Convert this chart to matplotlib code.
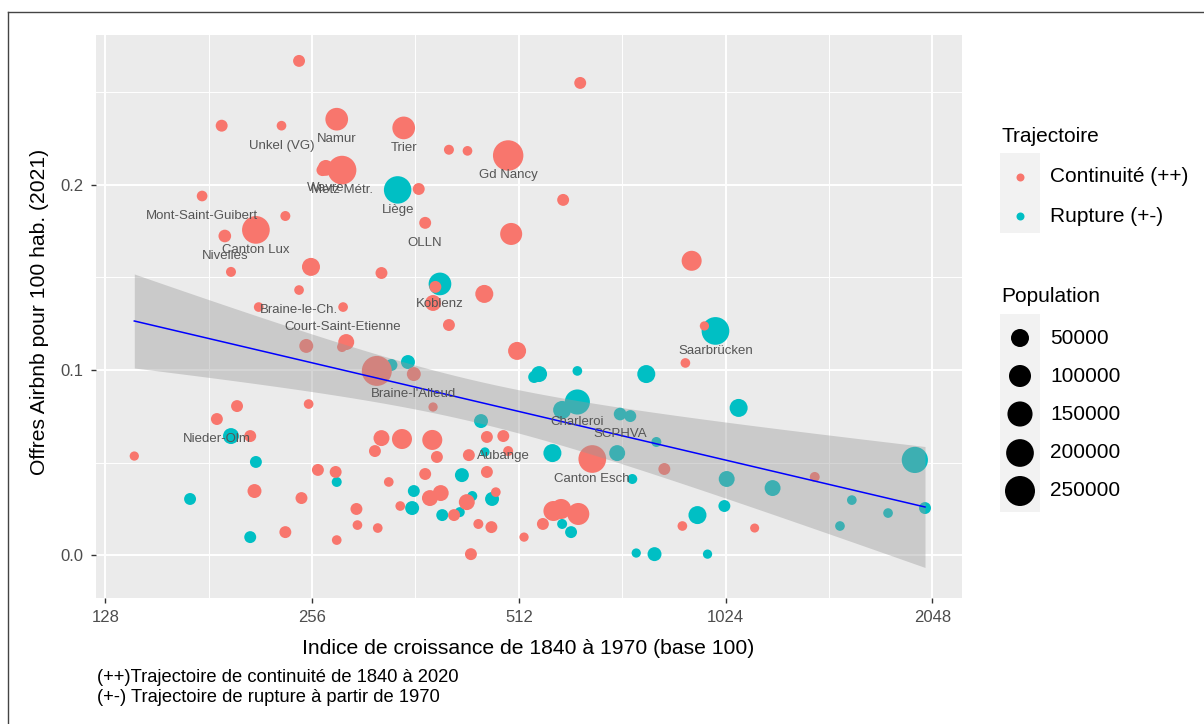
import numpy as np
import matplotlib
matplotlib.use('Agg')
import matplotlib.pyplot as plt
from matplotlib.patches import Rectangle
from matplotlib.lines import Line2D

plt.rcParams['font.family'] = ['Liberation Sans', 'DejaVu Sans']

# Trajectoire de continuité (++)
cont_indice = [245, 189, 231, 278, 265, 268, 283, 177, 234, 212,
               191, 195, 255, 323, 245, 214, 284, 251, 287, 283,
               318, 199, 253, 186, 208, 141, 211, 247, 234, 261,
               277, 316, 323, 346, 383, 297, 298, 319, 278, 331,
               344, 348, 405, 431, 494, 366, 594, 374, 499, 387,
               456, 384, 405, 509, 360, 384, 460, 486, 389, 433,
               494, 655, 834, 374, 460, 380, 394, 430, 474, 412,
               447, 467, 521, 555, 575, 590, 625, 436, 629, 914,
               954, 895, 886, 1129, 1381]
cont_airbnb = [0.267, 0.232, 0.232, 0.2355, 0.208, 0.2092, 0.208, 0.194, 0.1832, 0.1757,
               0.1724, 0.153, 0.1557, 0.1524, 0.1432, 0.134, 0.134, 0.113, 0.1151, 0.1124,
               0.0995, 0.0805, 0.0816, 0.0735, 0.0643, 0.0535, 0.0346, 0.0308, 0.0124, 0.046,
               0.0449, 0.0562, 0.0632, 0.0627, 0.0622, 0.0249, 0.0162, 0.0146, 0.0081, 0.0395,
               0.0265, 0.2308, 0.219, 0.2184, 0.2159, 0.1978, 0.1919, 0.1795, 0.1735, 0.1449,
               0.1411, 0.1362, 0.1243, 0.1103, 0.0978, 0.080, 0.0638, 0.0643, 0.053, 0.054,
               0.0562, 0.0519, 0.0465, 0.0438, 0.0449, 0.0308, 0.0335, 0.0286, 0.034, 0.0216,
               0.0168, 0.0151, 0.0097, 0.0168, 0.0238, 0.0249, 0.0222, 0.0005, 0.2551, 0.159,
               0.1238, 0.1038, 0.0157, 0.0146, 0.0422]
cont_pop = [7000, 7000, 1000, 110000, 7000, 30000, 220000, 3000, 1500, 200000,
            10000, 1500, 50000, 7000, 1000, 1000, 1000, 17000, 31000, 1500,
            250000, 7000, 1000, 7000, 7000, 500, 17000, 7000, 7000, 7000,
            7000, 7000, 31000, 73000, 73000, 7000, 1000, 1000, 1000, 1000,
            1000, 110000, 1500, 1000, 260000, 7000, 7000, 7000, 100000, 7000,
            50000, 31000, 7000, 50000, 17000, 500, 7000, 7000, 7000, 7000,
            1500, 200000, 7000, 7000, 7000, 31000, 31000, 31000, 1000, 7000,
            1500, 7000, 500, 7000, 73000, 73000, 100000, 7000, 7000, 73000,
            500, 1000, 1000, 300, 1500]
cont_nom = ['', '', 'Unkel (VG)', 'Namur', '', 'Wavre', 'Metz Métr.', 'Mont-Saint-Guibert', '', 'Canton Lux',
            'Nivelles', '', '', '', 'Braine-le-Ch.', '', 'Court-Saint-Etienne', '', '', '',
            '', '', '', 'Nieder-Olm', '', '', '', '', '', '',
            '', '', '', '', '', '', '', '', '', '',
            '', 'Trier', '', '', 'Gd Nancy', '', '', 'OLLN', '', '',
            '', '', '', '', "Braine-l'Alleud", '', '', 'Aubange', '', '',
            '', 'Canton Esch', '', '', '', '', '', '', '', '',
            '', '', '', '', '', '', '', '', '', '',
            '', '', '', '', '']

# Trajectoire de rupture (+-)
rupt_indice = [341, 393, 353, 334, 548, 539, 623, 785, 623, 592,
               719, 744, 451, 457, 573, 712, 812, 749, 423, 360,
               438, 468, 358, 396, 420, 592, 610, 759, 807, 195,
               212, 170, 208, 278, 990, 1070, 1028, 932, 1020, 964,
               1199, 1564, 1503, 1766, 1932, 1999]
rupt_airbnb = [0.1973, 0.1465, 0.1043, 0.1027, 0.0978, 0.0962, 0.0995, 0.0978, 0.0827, 0.0784,
               0.0762, 0.0751, 0.0724, 0.0557, 0.0551, 0.0551, 0.0611, 0.0411, 0.0432, 0.0346,
               0.0319, 0.0303, 0.0254, 0.0216, 0.0232, 0.0168, 0.0124, 0.0011, 0.0005, 0.0643,
               0.0503, 0.0303, 0.0097, 0.0395, 0.1211, 0.0795, 0.0411, 0.0216, 0.0265, 0.0005,
               0.0362, 0.0297, 0.0157, 0.0227, 0.0514, 0.0254]
rupt_pop = [195000, 110000, 17000, 7000, 31000, 7000, 1000, 50000, 150000, 50000,
            10000, 7000, 17000, 500, 50000, 31000, 1500, 1500, 17000, 7000,
            1500, 17000, 17000, 7000, 1500, 1500, 7000, 500, 17000, 31000,
            7000, 7000, 7000, 1500, 200000, 50000, 31000, 50000, 7000, 500,
            31000, 1000, 1000, 1000, 170000, 7000]
rupt_nom = ['Liège', 'Koblenz', '', '', '', '', '', '', 'Charleroi', '',
            'SCPHVA', '', '', '', '', '', '', '', '', '',
            '', '', '', '', '', '', '', '', '', '',
            '', '', '', '', 'Saarbrücken', '', '', '', '', '',
            '', '', '', '', '', '']

pop_legende = [50000, 100000, 150000, 200000, 250000]
x_ticks = [128, 256, 512, 1024, 2048]
y_ticks = [0.0, 0.1, 0.2]

rouge = '#F8766D'
bleu_vert = '#00BFC4'


def taille(pop):
    # diametre en pixels ~ racine de la population, converti en points^2
    d = 8.3 + 0.0434 * np.sqrt(np.asarray(pop, dtype=float))
    return (d * 0.72) ** 2


W, H = 1204, 724
fig = plt.figure(figsize=(W / 100, H / 100), dpi=100)
ax = fig.add_axes([95.5 / W, 1 - 598 / H, (962 - 95.5) / W, (598 - 35) / H])
ax.set_facecolor('#EBEBEB')
for s in ax.spines.values():
    s.set_visible(False)

ax.scatter(rupt_indice, rupt_airbnb, s=taille(rupt_pop), color=bleu_vert, linewidths=0, zorder=2)
ax.scatter(cont_indice, cont_airbnb, s=taille(cont_pop), color=rouge, linewidths=0, zorder=2)

# droite de regression lineaire (x en log2) + intervalle de confiance 95%
x_all = np.log2(np.array(cont_indice + rupt_indice, dtype=float))
y_all = np.array(cont_airbnb + rupt_airbnb)
n = len(x_all)
pente, orig = np.polyfit(x_all, y_all, 1)
resid = y_all - (orig + pente * x_all)
s_res = np.sqrt(np.sum(resid ** 2) / (n - 2))
sxx = np.sum((x_all - x_all.mean()) ** 2)
xs = np.linspace(x_all.min(), x_all.max(), 80)
ys = orig + pente * xs
se = s_res * np.sqrt(1 / n + (xs - x_all.mean()) ** 2 / sxx)
t = 1.978
ax.fill_between(2 ** xs, ys - t * se, ys + t * se, color='#999999', alpha=0.4, linewidth=0, zorder=3)
ax.plot(2 ** xs, ys, color='blue', linewidth=1.1, zorder=4)

for xi, yi, nom in zip(cont_indice + rupt_indice, cont_airbnb + rupt_airbnb, cont_nom + rupt_nom):
    if nom:
        ax.text(xi, yi - 0.0108, nom, ha='center', va='center', fontsize=9.5,
                color='#555555', zorder=5)

ax.set_xscale('log', base=2)
ax.set_xlim(123.8, 2263)
ax.set_ylim(-0.0232, 0.281)
ax.set_xticks(x_ticks)
ax.set_xticklabels([str(v) for v in x_ticks])
ax.set_xticks([v * np.sqrt(2) for v in x_ticks[:-1]], minor=True)
ax.set_xticklabels([], minor=True)
ax.set_yticks(y_ticks)
ax.set_yticklabels(['%.1f' % v for v in y_ticks])
ax.set_yticks([0.05, 0.15, 0.25], minor=True)
ax.grid(which='major', color='white', linewidth=1.4, zorder=0)
ax.grid(which='minor', color='white', linewidth=0.7, zorder=0)
ax.set_axisbelow(True)
ax.tick_params(which='major', length=3.5, width=1, color='#333333', labelcolor='#4D4D4D',
               labelsize=12, pad=5.5)
ax.tick_params(which='minor', length=0)

fig.text(528 / W, 1 - 648 / H, 'Indice de croissance de 1840 à 1970 (base 100)',
         ha='center', va='center', fontsize=15.2)
fig.text(40 / W, 1 - 312 / H, 'Offres Airbnb pour 100 hab. (2021)', rotation=90,
         ha='center', va='center', fontsize=15.2)
fig.text(97 / W, 1 - 678 / H, '(++)Trajectoire de continuité de 1840 à 2020',
         ha='left', va='center', fontsize=13.2)
fig.text(97 / W, 1 - 697 / H, '(+-) Trajectoire de rupture à partir de 1970',
         ha='left', va='center', fontsize=13.2)

# legendes dessinees en coordonnees pixels
lax = fig.add_axes([0, 0, 1, 1], zorder=10)
lax.set_xlim(0, W)
lax.set_ylim(H, 0)
lax.axis('off')
lax.patch.set_alpha(0)

lax.text(1001, 137, 'Trajectoire', ha='left', va='center', fontsize=15)
lax.add_patch(Rectangle((1000, 153), 40, 80, facecolor='#F2F2F2', edgecolor='none'))
for yy, col, lab in [(177, rouge, 'Continuité (++)'), (216, bleu_vert, 'Rupture (+-)')]:
    lax.scatter([1020], [yy], s=(8 * 0.72) ** 2, color=col, linewidths=0)
    lax.text(1050, yy, lab, ha='left', va='center', fontsize=15)

lax.text(1001, 297, 'Population', ha='left', va='center', fontsize=15)
lax.add_patch(Rectangle((1000, 314), 40, 198, facecolor='#F2F2F2', edgecolor='none'))
y_leg = [338, 376, 414, 453, 491]
lax.scatter([1020] * 5, y_leg, s=taille(pop_legende), color='black', linewidths=0)
for yy, p in zip(y_leg, pop_legende):
    lax.text(1050, yy, str(p), ha='left', va='center', fontsize=15)

# cadre exterieur
lax.add_line(Line2D([8, 8], [12, H + 5], color='#444444', linewidth=1))
lax.add_line(Line2D([8, W + 5], [12, 12], color='#444444', linewidth=1))

fig.savefig('out.png', dpi=100)
